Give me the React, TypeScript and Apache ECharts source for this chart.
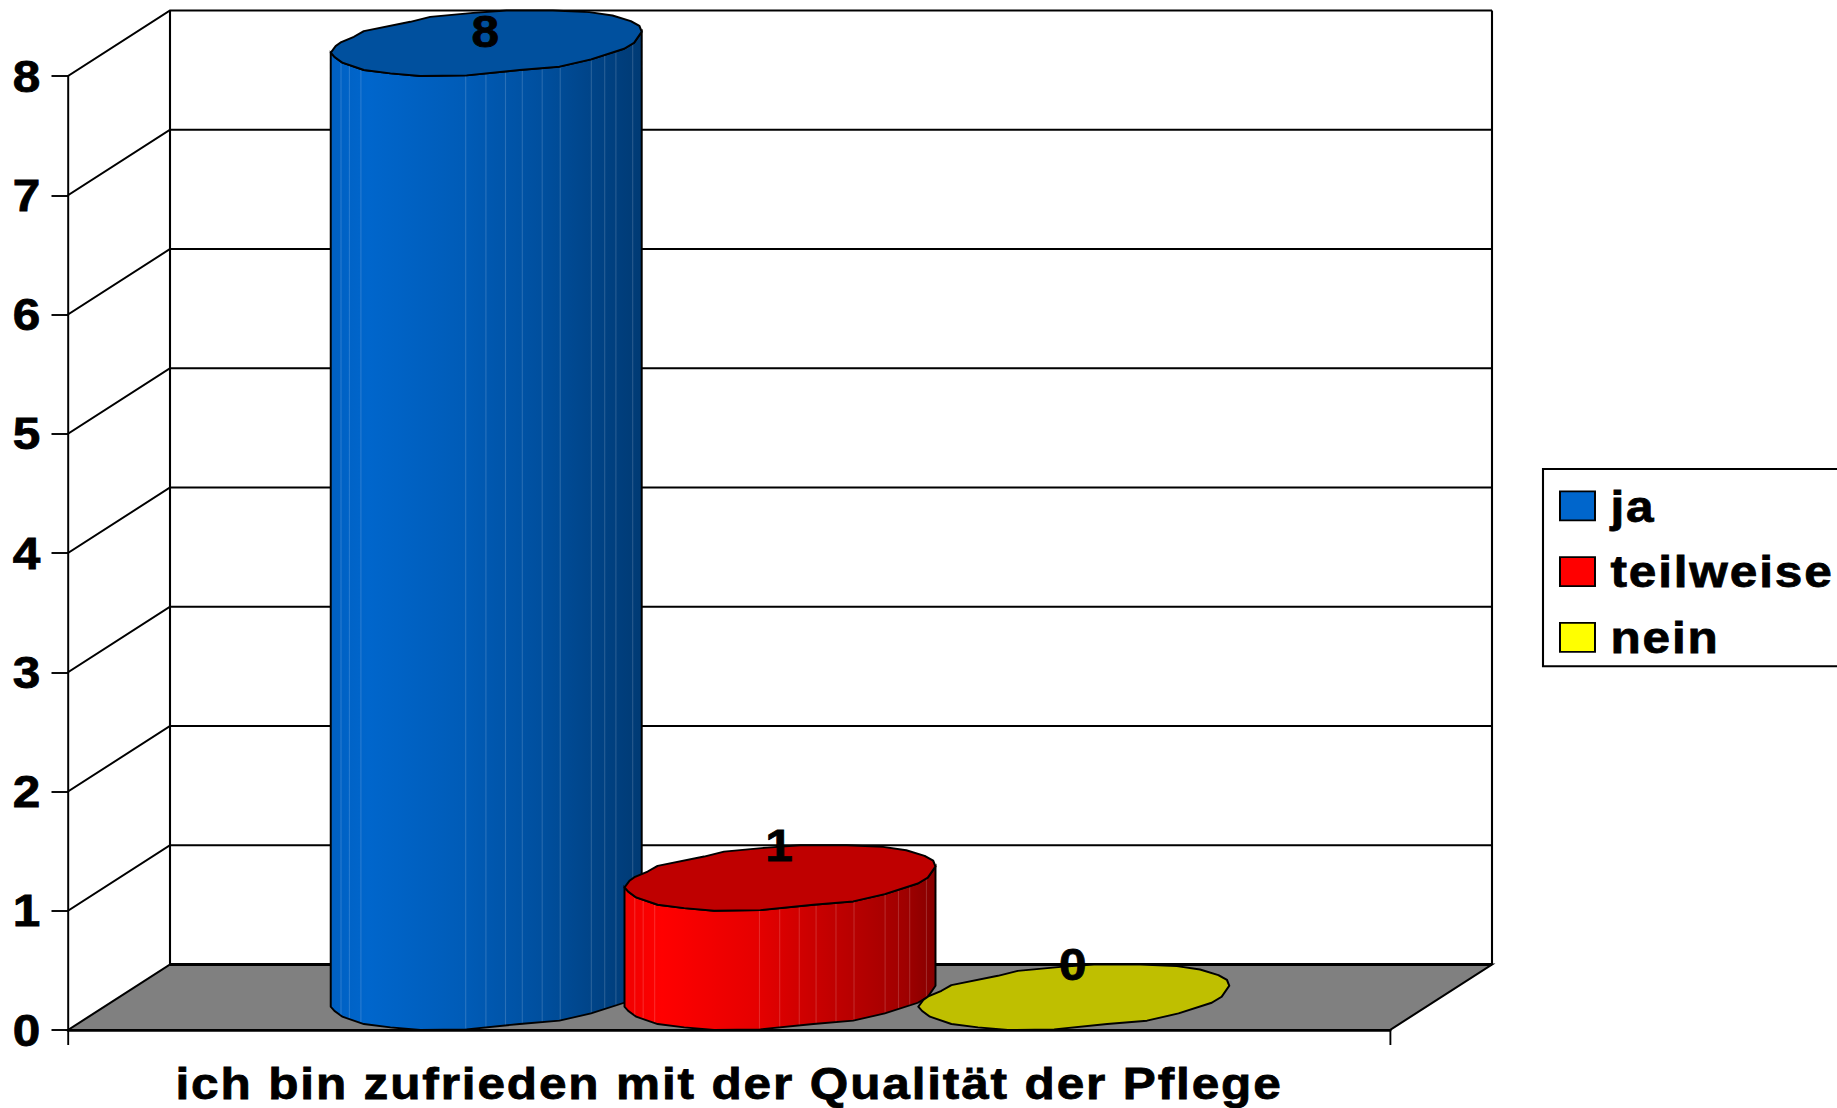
import React, { useEffect, useRef } from "react";
import * as echarts from "echarts";

const categories = ["ich bin zufrieden mit der Qualität der Pflege"];
const seriesNames = ["ja", "teilweise", "nein"];
const seriesValues = [8, 1, 0];
const legendColors = ["#0066CC", "#FF0000", "#FFFF00"];
const topColors = ["#00509E", "#BF0000", "#BFBF00"];
const sideStops = [
  ["#0060C2", "#0066CC", "#005CB8", "#004F9E", "#004080", "#003A74"],
  ["#F00000", "#FF0000", "#E60000", "#BF0000", "#A00000", "#860000"],
  ["#BFBF00", "#BFBF00", "#BFBF00", "#BFBF00", "#BFBF00", "#BFBF00"],
];
const stopOffsets = [0, 0.12, 0.42, 0.68, 0.9, 1];
const seamFractions = [0.033, 0.06, 0.097, 0.434, 0.499, 0.562, 0.616, 0.68, 0.738, 0.838, 0.881, 0.917, 0.971];
const yTicks = [0, 1, 2, 3, 4, 5, 6, 7, 8];
// Unit outline of a cylinder's cap (the reference's slightly faceted skewed ellipse).
const capFront = [
  [-1, 0.289], [-0.975, 0.42], [-0.925, 0.594], [-0.787, 0.817], [-0.616, 0.919], [-0.424, 1], [-0.126, 0.98],
  [0.215, 0.817], [0.471, 0.716], [0.674, 0.492], [0.887, 0.168], [0.951, -0.015], [1, -0.35],
];
const capBack = [
  [0.985, -0.53], [0.93, -0.675], [0.812, -0.848], [0.663, -0.949], [0.429, -1], [0.13, -1], [-0.083, -0.929],
  [-0.36, -0.807], [-0.488, -0.655], [-0.787, -0.37], [-0.851, -0.198], [-0.932, -0.036], [-0.968, 0.086],
];

const S = 1.1;
const W = 1837 / S;
const H = 1108;
const DX = 102 / S;
const DY = 65.5;
const FONT = "'Liberation Sans', Arial, sans-serif";
const TEXT_WEIGHT = 0.8;

function renderWall(params: any, api: any) {
  const v = api.value(1);
  const cs = params.coordSys;
  const x0 = cs.x;
  const x1 = cs.x + cs.width;
  const y = api.coord([0, v])[1];
  const line = { fill: "none", stroke: "#000", lineWidth: 1.9 };
  const children: any[] = [];
  if (v === 0) {
    const top = api.coord([0, yTicks[yTicks.length - 1]])[1] - DY;
    children.push({
      type: "polygon",
      shape: { points: [[x0, y], [x0 + DX, y - DY], [x1 + DX, y - DY], [x1, y]] },
      style: { fill: "#808080", stroke: "#000", lineWidth: 2 },
    });
    children.push({
      type: "polyline",
      shape: { points: [[x0 + DX, y - DY], [x1 + DX, y - DY]] },
      style: { fill: "none", stroke: "#000", lineWidth: 3 },
    });
    children.push({ type: "polyline", shape: { points: [[x0 + DX, y - DY], [x0 + DX, top]] }, style: line });
    children.push({ type: "polyline", shape: { points: [[x1 + DX, y - DY], [x1 + DX, top]] }, style: line });
  } else {
    children.push({
      type: "polyline",
      shape: { points: [[x0, y], [x0 + DX, y - DY], [x1 + DX, y - DY]] },
      style: line,
    });
  }
  return { type: "group", children };
}

function renderCylinder(index: number) {
  return (params: any, api: any) => {
    const v = api.value(1);
    const band = api.size([1, 0])[0];
    const pitch = band / 4.5;
    const a = pitch / 2;
    const e = DX / 2;
    const f = DY / 2;
    const cx = api.coord([0, v])[0] + (index - 1) * pitch + e;
    const yTop = api.coord([0, v])[1] - f;
    const yBase = api.coord([0, 0])[1] - f;
    const halfWidth = Math.sqrt(a * a + e * e);
    const place = (pts: number[][], yc: number) => pts.map(([u, w]) => [cx + u * halfWidth, yc + w * f]);
    const frontTop = place(capFront, yTop);
    const frontBase = place(capFront, yBase);
    const ring = [...frontTop, ...place(capBack, yTop)];
    const xl = frontBase[0][0];
    const xr = frontBase[frontBase.length - 1][0];
    const stops = sideStops[index];
    const children: any[] = [];
    if (v > 0) {
      children.push({
        type: "polygon",
        shape: { points: [...frontBase, ...frontTop.slice().reverse()] },
        style: {
          fill: new echarts.graphic.LinearGradient(
            0, 0, 1, 0,
            stopOffsets.map((offset, i) => ({ offset, color: stops[i] }))
          ),
          stroke: "#000",
          lineWidth: 1.8,
        },
      });
      const yAtX = (pts: number[][], x: number) => {
        for (let i = 1; i < pts.length; i++) {
          if (x <= pts[i][0]) {
            const k = (x - pts[i - 1][0]) / (pts[i][0] - pts[i - 1][0] || 1);
            return pts[i - 1][1] + k * (pts[i][1] - pts[i - 1][1]);
          }
        }
        return pts[pts.length - 1][1];
      };
      seamFractions.forEach((fr) => {
        const x = xl + fr * (xr - xl);
        children.push({
          type: "line",
          shape: { x1: x, y1: yAtX(frontTop, x) + 1, x2: x, y2: yAtX(frontBase, x) - 1 },
          style: { stroke: "rgba(255,255,255,0.16)", lineWidth: 1 },
        });
      });
    }
    children.push({
      type: "polygon",
      shape: { points: ring },
      style: { fill: topColors[index], stroke: "#000", lineWidth: 1.9, lineJoin: "round" },
    });
    children.push({
      type: "text",
      style: {
        text: String(v),
        x: cx,
        y: Math.max(yTop - f, 31),
        align: "center",
        verticalAlign: "middle",
        fill: "#000",
        stroke: "#000",
        lineWidth: TEXT_WEIGHT,
        fontFamily: FONT,
        fontWeight: "bold",
        fontSize: 45,
      },
    });
    return { type: "group", children };
  };
}

export default function App() {
  const ref = useRef<HTMLDivElement>(null);
  useEffect(() => {
    if (!ref.current) return;
    const chart = echarts.init(ref.current, undefined, { renderer: "svg" });
    const labelStyle = {
      color: "#000",
      fontFamily: FONT,
      fontWeight: "bold" as const,
      fontSize: 45,
      textBorderColor: "#000",
      textBorderWidth: TEXT_WEIGHT,
    };
    chart.setOption({
      animation: false,
      backgroundColor: "#fff",
      grid: { left: 68 / S, width: 1322 / S, top: 76, height: 954 },
      legend: {
        orient: "vertical",
        left: 1543 / S,
        top: 469,
        padding: [14, 200, 6, 16 / S],
        itemWidth: 35 / S,
        itemHeight: 29,
        itemGap: 19.9,
        icon: "rect",
        backgroundColor: "#fff",
        borderColor: "#000",
        borderWidth: 1.9,
        borderRadius: 0,
        selectedMode: false,
        data: seriesNames,
        itemStyle: { borderColor: "#000", borderWidth: 1.8 },
        textStyle: { ...labelStyle, lineHeight: 45, padding: [0, 0, 0, 9] },
      },
      xAxis: {
        type: "category",
        data: categories,
        z: 1,
        axisLine: { show: true, lineStyle: { color: "#000", width: 2.6 } },
        axisTick: { show: true, length: 15, lineStyle: { color: "#000", width: 1.7 } },
        axisLabel: { ...labelStyle, margin: 31, interval: 0 },
        splitLine: { show: false },
      },
      yAxis: {
        type: "value",
        min: 0,
        max: 8,
        interval: 1,
        z: 1,
        axisLine: { show: true, lineStyle: { color: "#000", width: 1.8 } },
        axisTick: { show: true, length: 15, lineStyle: { color: "#000", width: 1.9 } },
        axisLabel: { ...labelStyle, margin: 23.5 },
        splitLine: { show: false },
      },
      series: [
        {
          type: "custom",
          name: "wall",
          z: 0,
          silent: true,
          renderItem: renderWall,
          encode: { x: 0, y: 1 },
          data: yTicks.map((v) => [0, v]),
        },
        ...seriesNames.map((name, i) => ({
          type: "custom",
          name,
          z: 2 + i,
          silent: true,
          itemStyle: { color: legendColors[i] },
          renderItem: renderCylinder(i),
          encode: { x: 0, y: 1 },
          data: [[0, seriesValues[i]]],
        })),
      ],
    });
    return () => chart.dispose();
  }, []);
  return (
    <div
      ref={ref}
      style={{
        position: "absolute",
        left: 0,
        top: 0,
        width: W,
        height: H,
        letterSpacing: "1.7px",
        transform: `scaleX(${S})`,
        transformOrigin: "left top",
      }}
    />
  );
}
